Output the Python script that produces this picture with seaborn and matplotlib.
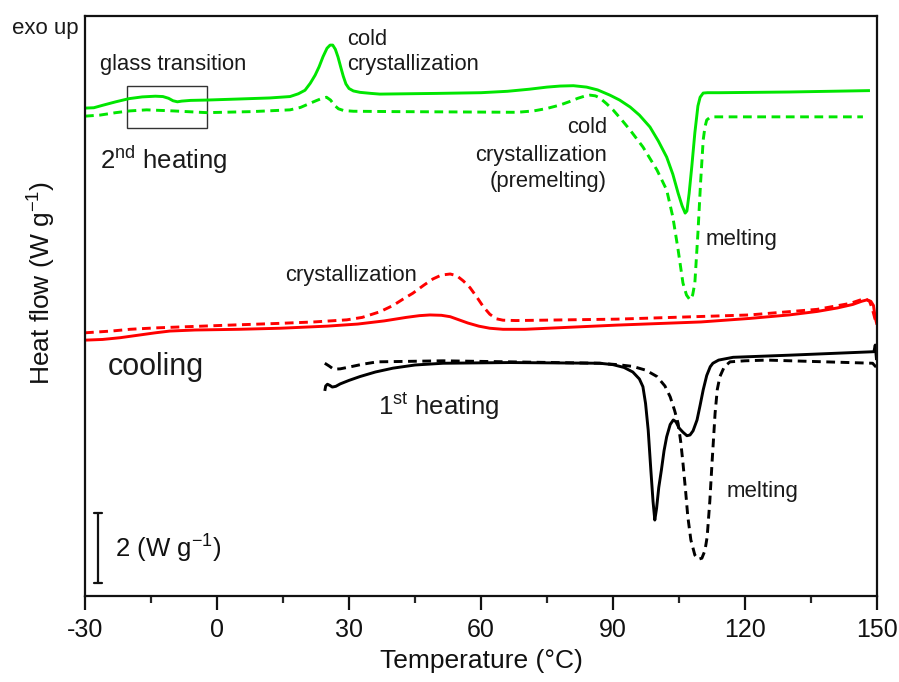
import numpy as np
import pandas as pd
import matplotlib
matplotlib.use("Agg")
import matplotlib.pyplot as plt
from matplotlib.patches import Rectangle
from matplotlib.ticker import MultipleLocator
import seaborn as sns

# ---- DSC traces (temperature in degC, stacked heat flow in W/g, exo up) ----
# 2nd heating, sample A (solid green)
heat2_a_T = [-30, -28, -26, -23, -20, -17, -14, -12.3, -11, -10, -9, -8, -6, -2.3, 5, 12,
             16.6, 18.5, 20, 21.2, 22.3, 23.2, 24.1, 25, 25.7, 26.3, 26.9, 27.5, 28.1,
             28.7, 29.3, 30, 31, 32.5, 35, 37, 50, 60, 66, 71, 75, 78, 81, 84, 86.5,
             89.3, 91.5, 93.9, 96, 98.4, 100.3, 102.2, 103.6, 104.8, 105.7, 106.4,
             106.8, 107.3, 107.9, 108.6, 109.3, 109.8, 110.5, 111.5, 114.3, 130, 148.4]
heat2_a_q = [13.94, 13.95, 14.02, 14.12, 14.21, 14.26, 14.28, 14.27, 14.22, 14.15, 14.12, 14.14,
             14.16, 14.17, 14.20, 14.23,
             14.27, 14.35, 14.45, 14.65, 14.88, 15.12, 15.41, 15.65, 15.74, 15.74, 15.62, 15.40,
             15.12, 14.85, 14.63, 14.50, 14.43, 14.39, 14.36, 14.34, 14.36, 14.38, 14.42, 14.48,
             14.54, 14.57, 14.58, 14.54, 14.46,
             14.31, 14.17, 13.97, 13.74, 13.40, 13.00, 12.54, 12.05, 11.51, 11.15, 10.94,
             11.00, 11.50, 12.26, 13.23, 14.00, 14.25, 14.37, 14.38, 14.38, 14.40, 14.44]

# 2nd heating, sample B (dashed green)
heat2_b_T = [-30, -26.6, -23, -19.8, -16, -10, -2.3, 8, 16.6, 19, 21, 22.5, 23.7, 24.9,
             25.8, 26.7, 27.6, 28.8, 31, 40, 55, 68.2, 72, 75, 78, 80, 82, 83.5, 84.8,
             86, 87, 88.5, 90, 92, 93.9, 96.8, 100, 102.2, 103.6, 104.8, 105.9, 106.7,
             107.5, 108.1, 108.6, 109.3, 109.9, 110.5, 110.9, 111.3, 112.0, 112.5, 120,
             146.8]
heat2_b_q = [13.71, 13.74, 13.81, 13.86, 13.89, 13.86, 13.81, 13.84, 13.89, 13.96, 14.07, 14.15,
             14.21, 14.25, 14.17, 14.02, 13.92, 13.87, 13.85, 13.84, 13.83, 13.82, 13.86, 13.93,
             14.03, 14.12, 14.22, 14.28, 14.31, 14.29, 14.23, 14.07, 13.89, 13.60, 13.31, 12.83,
             12.17, 11.60, 10.83, 9.89, 8.94, 8.60, 8.46, 8.60, 8.94, 10.37, 11.80, 13.03,
             13.40, 13.60, 13.67, 13.69, 13.69, 13.69]

# cooling, sample A (solid red)
cool_a_T = [-30, -26, -22, -18, -14, -10.7, -5, 5, 14.3, 25, 32, 38, 43, 46, 48.4, 51,
            53, 55, 57, 59.5, 62, 65, 70, 90.9, 110, 121, 130, 136.4, 141, 144.5, 146.5,
            147.7, 148.6, 149.2, 149.6, 150]
cool_a_q = [7.31, 7.33, 7.38, 7.45, 7.52, 7.57, 7.60, 7.62, 7.65, 7.71, 7.77, 7.86, 7.96,
            8.01, 8.03, 8.02, 7.98, 7.89, 7.80, 7.71, 7.65, 7.62, 7.62, 7.74, 7.83, 7.93,
            8.03, 8.13, 8.23, 8.33, 8.42, 8.46, 8.42, 8.30, 7.95, 7.75]

# cooling, sample B (dashed red)
cool_b_T = [-30, -24, -19.8, -14, -7.7, 3, 14.3, 22, 29.5, 33, 37, 40, 42.5, 44.5, 47,
            49.1, 51, 53, 54.5, 56, 57.5, 59, 60.5, 62, 63.5, 65, 68, 90.9, 121, 136.4,
            143.9, 146, 147.3, 148.3, 148.9, 149.6, 150]
cool_b_q = [7.52, 7.57, 7.62, 7.66, 7.69, 7.74, 7.79, 7.83, 7.89, 7.96, 8.12, 8.30, 8.50,
            8.65, 8.88, 9.06, 9.17, 9.20, 9.15, 9.00, 8.81, 8.55, 8.27, 8.05, 7.92, 7.88,
            7.87, 7.91, 8.03, 8.19, 8.36, 8.45, 8.50, 8.42, 8.22, 7.89, 7.80]

# 1st heating, sample A (solid black)
heat1_a_T = [24.5, 24.7, 25.1, 25.6, 26.2, 27, 28, 30, 32.5, 36, 40, 45, 51.4, 66.6, 87,
             90, 92.5, 94.5, 96, 96.8, 97.4, 98, 98.6, 99.1, 99.5, 99.9, 100.4, 101,
             101.6, 102.2, 103, 103.7, 104.3, 105, 105.9, 106.8, 107.5, 108.2, 109.1,
             109.8, 110.5, 111.3, 112.1, 112.7, 114, 117.3, 130, 149.3, 149.6, 149.9]
heat1_a_q = [5.86, 6.00, 6.05, 6.02, 5.97, 5.99, 6.06, 6.16, 6.27, 6.40, 6.51, 6.60, 6.65,
             6.67, 6.65, 6.61, 6.53, 6.40, 6.20, 5.98, 5.50, 4.74, 3.60, 2.70, 2.17, 2.50,
             3.10, 3.60, 4.15, 4.55, 4.90, 5.03, 4.98, 4.80, 4.68, 4.58, 4.60, 4.72, 5.03,
             5.45, 5.89, 6.30, 6.55, 6.65, 6.74, 6.82, 6.88, 6.98, 7.17, 6.74]

# 1st heating, sample B (dashed black)
heat1_b_T = [24.5, 25.5, 26.5, 28, 30, 33, 36.4, 51.4, 87, 91, 94.5, 97.5, 100, 101.8,
             103, 104, 104.8, 105.4, 105.9, 106.5, 107, 107.7, 108.6, 109.4, 110.2,
             110.9, 111.4, 112, 112.5, 112.9, 113.2, 113.7, 114.3, 115.3, 116.6, 120,
             125, 149, 149.8]
heat1_b_q = [6.65, 6.57, 6.48, 6.49, 6.54, 6.62, 6.69, 6.72, 6.65, 6.61, 6.56, 6.45, 6.27,
             6.00, 5.69, 5.30, 4.93, 4.40, 3.80, 3.00, 2.27, 1.60, 1.17, 1.05, 1.08, 1.30,
             1.69, 2.70, 3.79, 4.60, 5.22, 5.90, 6.27, 6.55, 6.69, 6.72, 6.74, 6.65, 6.54]

x_ticks = [-30, 0, 30, 60, 90, 120, 150]
scale_bar_wg = 2.0

GREEN = "#00e600"
RED = "#ff0000"
BLACK = "#000000"
DASH = (3.0, 1.9)

sns.set_style("ticks")
plt.rcParams["font.family"] = ["Liberation Sans", "DejaVu Sans"]
plt.rcParams["mathtext.default"] = "regular"

fig = plt.figure(figsize=(8.99, 6.82), dpi=100)
ax = fig.add_axes([85 / 899, 1 - 596 / 682, 792 / 899, 580 / 682])

curves = [
    (heat2_a_T, heat2_a_q, GREEN, None),
    (heat2_b_T, heat2_b_q, GREEN, DASH),
    (cool_a_T, cool_a_q, RED, None),
    (cool_b_T, cool_b_q, RED, DASH),
    (heat1_a_T, heat1_a_q, BLACK, None),
    (heat1_b_T, heat1_b_q, BLACK, DASH),
]
for T, q, color, dash in curves:
    df = pd.DataFrame({"T": T, "q": q})
    kw = {}
    if dash is not None:
        kw["dashes"] = dash
    sns.lineplot(data=df, x="T", y="q", ax=ax, color=color, linewidth=2.1,
                 estimator=None, sort=False, **kw)
for ln in ax.lines:
    ln.set_solid_capstyle("butt")
    ln.set_dash_capstyle("butt")
    ln.set_solid_joinstyle("round")

# glass-transition box
ax.add_patch(Rectangle((-20.5, 13.37), 18.2, 1.2, fill=False,
                       edgecolor="#333333", linewidth=1.0))

# scale bar
sb_x = -27.05
sb_y0 = 0.37
ax.plot([sb_x, sb_x], [sb_y0, sb_y0 + scale_bar_wg], color="#111111", linewidth=1.6)
ax.plot([sb_x - 0.9, sb_x + 0.9], [sb_y0, sb_y0], color="#111111", linewidth=1.6)
ax.plot([sb_x - 0.9, sb_x + 0.9], [sb_y0 + scale_bar_wg] * 2, color="#111111", linewidth=1.6)
ax.text(-23.2, 1.11, "2 (W g$^{-1}$)", fontsize=18.5, va="baseline", ha="left", color="#111111")

# annotations
tc = "#1a1a1a"
ax.text(-26.59, 15.03, "glass transition", fontsize=15.8, va="baseline", color=tc)
ax.text(29.55, 15.74, "cold", fontsize=15.8, va="baseline", color=tc)
ax.text(29.55, 15.03, "crystallization", fontsize=15.8, va="baseline", color=tc)
ax.text(-26.59, 12.2, "2$^{nd}$ heating", fontsize=18.5, va="baseline", color=tc)
ax.text(88.64, 13.23, "cold", fontsize=15.8, va="baseline", ha="right", color=tc)
ax.text(88.64, 12.43, "crystallization", fontsize=15.8, va="baseline", ha="right", color=tc)
ax.text(88.64, 11.69, "(premelting)", fontsize=15.8, va="baseline", ha="right", color=tc)
ax.text(111.14, 10.03, "melting", fontsize=16, va="baseline", color=tc)
ax.text(15.45, 9.0, "crystallization", fontsize=15.8, va="baseline", color=tc)
ax.text(-24.77, 6.31, "cooling", fontsize=22, va="baseline", color=tc)
ax.text(36.59, 5.17, "1$^{st}$ heating", fontsize=18.5, va="baseline", color=tc)
ax.text(115.9, 2.83, "melting", fontsize=16, va="baseline", color=tc)
fig.text(12 / 899, 1 - 34 / 682, "exo up", fontsize=16, va="baseline", color=tc)

# axes styling
ax.set_xlim(-30, 150)
ax.set_ylim(0, 580 / 35)
ax.set_xticks(x_ticks)
ax.set_xticklabels([str(t) for t in x_ticks])
ax.xaxis.set_minor_locator(MultipleLocator(15))
ax.set_yticks([])
ax.tick_params(axis="x", which="major", direction="out", length=10, width=1.6,
               labelsize=18, pad=6, colors="#111111")
ax.tick_params(axis="x", which="minor", direction="out", length=5, width=1.6)
ax.tick_params(top=False, right=False, left=False)
for s in ax.spines.values():
    s.set_visible(True)
    s.set_linewidth(1.6)
    s.set_color("#111111")
ax.set_xlabel("Temperature (°C)", fontsize=19, color="#111111")
ax.set_ylabel("Heat flow (W g$^{-1}$)", fontsize=19, color="#111111")
ax.xaxis.set_label_coords(0.501, -0.092)
ax.yaxis.set_label_coords(-0.034, 0.54)
ax.grid(False)

fig.savefig("out.png", dpi=100)
